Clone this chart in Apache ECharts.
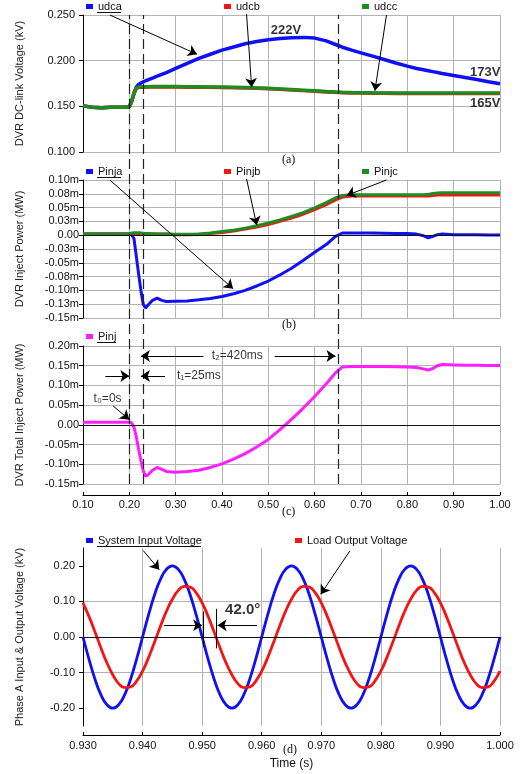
<!DOCTYPE html>
<html>
<head>
<meta charset="utf-8">
<script src="https://cdn.jsdelivr.net/npm/echarts@6/dist/echarts.min.js"></script>
<style>
html, body { margin: 0; padding: 0; background: #fff; }
#main { width: 532px; height: 774px; }
</style>
</head>
<body>
<div id="main"></div>
<script>
// time base for panels (a)-(c), seconds
var time = [
  0.10, 0.12, 0.14, 0.16, 0.18, 0.195, 0.20, 0.205, 0.21, 0.215,
  0.22, 0.225, 0.23, 0.235, 0.24, 0.25, 0.26, 0.27, 0.28, 0.30,
  0.325, 0.35, 0.375, 0.40, 0.425, 0.45, 0.475, 0.50, 0.525, 0.55,
  0.575, 0.60, 0.625, 0.645, 0.66, 0.68, 0.70, 0.725, 0.75, 0.775,
  0.80, 0.82, 0.835, 0.845, 0.855, 0.865, 0.875, 0.90, 0.925, 0.95,
  0.975, 1.00
];
// (a) DC-link voltage, kV
var udca = [
  0.1505, 0.149, 0.1485, 0.149, 0.149, 0.149, 0.1495, 0.155, 0.164, 0.171,
  0.174, 0.1755, 0.1768, 0.178, 0.179, 0.181, 0.183, 0.185, 0.187, 0.1915,
  0.197, 0.2025, 0.207, 0.2115, 0.215, 0.2185, 0.221, 0.223, 0.2243, 0.2252,
  0.2255, 0.2247, 0.2217, 0.2177, 0.2147, 0.2115, 0.2085, 0.205, 0.2013, 0.1975,
  0.194, 0.1915, 0.190, 0.189, 0.188, 0.187, 0.186, 0.1838, 0.1815, 0.1793,
  0.177, 0.1748
];
var udcb = [
  0.1505, 0.149, 0.1485, 0.149, 0.149, 0.149, 0.1495, 0.1555, 0.164, 0.1695,
  0.1708, 0.171, 0.171, 0.171, 0.1711, 0.1711, 0.1711, 0.1711, 0.1711, 0.1711,
  0.171, 0.1709, 0.1708, 0.1706, 0.1704, 0.1701, 0.1697, 0.1692, 0.1686, 0.1679,
  0.1672, 0.1665, 0.1658, 0.1653, 0.165, 0.1647, 0.1645, 0.1643, 0.1642, 0.1641,
  0.164, 0.164, 0.164, 0.164, 0.164, 0.164, 0.164, 0.164, 0.164, 0.164,
  0.164, 0.164
];
var udcc = [
  0.1505, 0.149, 0.1485, 0.149, 0.149, 0.149, 0.1495, 0.156, 0.1645, 0.170,
  0.1712, 0.1715, 0.1715, 0.1715, 0.1715, 0.1716, 0.1716, 0.1716, 0.1716, 0.1716,
  0.1715, 0.1714, 0.1713, 0.1711, 0.1709, 0.1706, 0.1702, 0.1697, 0.1691, 0.1684,
  0.1677, 0.167, 0.1663, 0.1658, 0.1655, 0.1652, 0.165, 0.1648, 0.1647, 0.1646,
  0.1645, 0.1645, 0.1645, 0.1645, 0.1645, 0.1645, 0.1645, 0.1645, 0.1645, 0.1645,
  0.1645, 0.1645
];
// (b) per-phase injected power, MW
var pinja = [
  0.002, 0.002, 0.002, 0.002, 0.002, 0.002, 0.002, 0.001, -0.006, -0.038,
  -0.07, -0.1, -0.125, -0.132, -0.127, -0.118, -0.114, -0.118, -0.12, -0.1195,
  -0.119, -0.117, -0.1145, -0.111, -0.106, -0.1, -0.092, -0.083, -0.072, -0.06,
  -0.046, -0.031, -0.017, -0.002, 0.004, 0.004, 0.004, 0.0038, 0.0035, 0.003,
  0.003, 0.002, -0.001, -0.005, -0.002, 0.001, 0.002, 0.001, 0.001, 0.001,
  0.0005, 0.0005
];
var pinjb = [
  0.002, 0.002, 0.002, 0.002, 0.002, 0.002, 0.002, 0.002, 0.002, 0.002,
  0.002, 0.002, 0.002, 0.002, 0.002, 0.002, 0.002, 0.002, 0.002, 0.001,
  0.001, 0.0015, 0.003, 0.005, 0.0075, 0.011, 0.015, 0.0195, 0.025, 0.031,
  0.038, 0.0465, 0.0555, 0.064, 0.069, 0.0708, 0.071, 0.071, 0.071, 0.071,
  0.071, 0.071, 0.071, 0.071, 0.0718, 0.0728, 0.073, 0.073, 0.073, 0.073,
  0.073, 0.073
];
var pinjc = [
  0.002, 0.002, 0.002, 0.002, 0.002, 0.002, 0.002, 0.004, 0.0045, 0.0045,
  0.0045, 0.004, 0.0035, 0.003, 0.003, 0.0025, 0.002, 0.002, 0.002, 0.0015,
  0.0015, 0.002, 0.004, 0.0065, 0.009, 0.0125, 0.017, 0.022, 0.0275, 0.034,
  0.041, 0.0495, 0.059, 0.0675, 0.072, 0.0735, 0.0735, 0.0735, 0.0735, 0.0735,
  0.0735, 0.0735, 0.0735, 0.074, 0.0755, 0.0765, 0.077, 0.077, 0.077, 0.077,
  0.077, 0.077
];
// (c) total injected power, MW
var pinj = [
  0.0065, 0.0065, 0.0065, 0.0065, 0.0065, 0.0065, 0.0065, 0.005, -0.006, -0.03,
  -0.062, -0.09, -0.117, -0.13, -0.127, -0.115, -0.108, -0.113, -0.118, -0.12,
  -0.1185, -0.115, -0.108, -0.099, -0.087, -0.073, -0.056, -0.037, -0.012, 0.014,
  0.042, 0.072, 0.104, 0.132, 0.147, 0.148, 0.148, 0.148, 0.148, 0.1475,
  0.147, 0.1455, 0.142, 0.139, 0.143, 0.15, 0.153, 0.152, 0.151, 0.151,
  0.1505, 0.1505
];
// (d) phase A voltages, kV
var timeD = [
  0.930, 0.931, 0.932, 0.933, 0.934, 0.935, 0.936, 0.937, 0.938, 0.939,
  0.940, 0.941, 0.942, 0.943, 0.944, 0.945, 0.946, 0.947, 0.948, 0.949,
  0.950, 0.951, 0.952, 0.953, 0.954, 0.955, 0.956, 0.957, 0.958, 0.959,
  0.960, 0.961, 0.962, 0.963, 0.964, 0.965, 0.966, 0.967, 0.968, 0.969,
  0.970, 0.971, 0.972, 0.973, 0.974, 0.975, 0.976, 0.977, 0.978, 0.979,
  0.980, 0.981, 0.982, 0.983, 0.984, 0.985, 0.986, 0.987, 0.988, 0.989,
  0.990, 0.991, 0.992, 0.993, 0.994, 0.995, 0.996, 0.997, 0.998, 0.999,
  1.000
];
var vin = [
  0, -0.062, -0.118, -0.162, -0.19, -0.2, -0.19, -0.162, -0.118, -0.062,
  0, 0.062, 0.118, 0.162, 0.19, 0.2, 0.19, 0.162, 0.118, 0.062,
  0, -0.062, -0.118, -0.162, -0.19, -0.2, -0.19, -0.162, -0.118, -0.062,
  0, 0.062, 0.118, 0.162, 0.19, 0.2, 0.19, 0.162, 0.118, 0.062,
  0, -0.062, -0.118, -0.162, -0.19, -0.2, -0.19, -0.162, -0.118, -0.062,
  0, 0.062, 0.118, 0.162, 0.19, 0.2, 0.19, 0.162, 0.118, 0.062,
  0, -0.062, -0.118, -0.162, -0.19, -0.2, -0.19, -0.162, -0.118, -0.062,
  0
];
var vout = [
  0.096, 0.058, 0.015, -0.03, -0.072, -0.106, -0.131, -0.142, -0.14, -0.124,
  -0.096, -0.058, -0.015, 0.03, 0.072, 0.106, 0.131, 0.142, 0.14, 0.124,
  0.096, 0.058, 0.015, -0.03, -0.072, -0.106, -0.131, -0.142, -0.14, -0.124,
  -0.096, -0.058, -0.015, 0.03, 0.072, 0.106, 0.131, 0.142, 0.14, 0.124,
  0.096, 0.058, 0.015, -0.03, -0.072, -0.106, -0.131, -0.142, -0.14, -0.124,
  -0.096, -0.058, -0.015, 0.03, 0.072, 0.106, 0.131, 0.142, 0.14, 0.124,
  0.096, 0.058, 0.015, -0.03, -0.072, -0.106, -0.131, -0.142, -0.14, -0.124,
  -0.096
];
// event times (s): sag start, t1, t2
var events = [0.20, 0.225, 0.645];
// tick labels
var ticksB = ['-0.15m', '-0.13m', '-0.10m', '-0.08m', '-0.05m', '-0.03m', '0.00', '0.03m', '0.05m', '0.08m', '0.10m'];
var ticksC = ['-0.15m', '-0.10m', '-0.05m', '0.00', '0.05m', '0.10m', '0.15m', '0.20m'];
var ticksD = [-0.2, -0.1, 0, 0.1, 0.2];

// annotations: arrows [[x1,y1],[x2,y2]] and text [x, y, label] in data units
var arrowsA = [[[0.158, 0.25], [0.346, 0.207]], [[0.453, 0.251], [0.464, 0.171]], [[0.755, 0.25], [0.730, 0.167]]];
var arrowsB = [[[0.158, 0.10], [0.424, -0.097]], [[0.453, 0.102], [0.475, 0.018]], [[0.755, 0.10], [0.669, 0.072]]];
var arrowsC = [[[0.360, 0.1746], [0.225, 0.1746]], [[0.514, 0.1746], [0.645, 0.1746]],
               [[0.148, 0.124], [0.200, 0.124]], [[0.277, 0.124], [0.225, 0.124]],
               [[0.165, 0.048], [0.200, 0.013]]];
var arrowsD = [[[0.9401, 0.243], [0.9428, 0.189]], [[0.9748, 0.242], [0.9699, 0.12]],
               [[0.9436, 0.033], [0.9500, 0.033]], [[0.9592, 0.033], [0.9526, 0.033]]];
var ticksLinesD = [[[0.9502, 0.072], [0.9502, -0.028]], [[0.9524, 0.079], [0.9524, -0.032]]];
var textA = [[0.538, 0.2336, '222V'], [0.968, 0.187, '173V'], [0.968, 0.1533, '165V']];
var textC = [[0.433, 0.1746, 't\u2082=420ms'], [0.350, 0.124, 't\u2081=25ms'], [0.153, 0.0673, 't\u2080=0s']];
var textD = [[0.9568, 0.077, '42.0\u00b0']];

var FONT = 'Liberation Sans';
var BLUE = '#1010f5', RED = '#f51414', GREEN = '#1e8c1e', MAGENTA = '#ff1eff';
var GRIDC = '#b4b4b4';

function pairs(xs, ys) {
  return xs.map(function (x, i) { return [x, ys[i]]; });
}

var myChart = echarts.init(document.getElementById('main'));

function xAxisFor(gi, opts) {
  var base = {
    type: 'value', gridIndex: gi, min: 0.1, max: 1.0, interval: 0.1,
    axisLine: { show: false, onZero: false },
    axisTick: { show: false },
    axisLabel: { show: false },
    splitLine: { show: true, lineStyle: { color: GRIDC, width: 1 } }
  };
  return Object.assign(base, opts || {});
}

function yAxisFor(gi, opts) {
  var base = {
    type: 'value', gridIndex: gi,
    nameLocation: 'middle', nameGap: 58,
    nameTextStyle: { fontFamily: FONT, fontSize: 11, color: '#222' },
    axisLine: { show: true, onZero: false, lineStyle: { color: '#000', width: 1 } },
    axisTick: { show: true, length: 4, lineStyle: { color: '#000' } },
    axisLabel: { fontFamily: FONT, fontSize: 11, color: '#111', margin: 8 },
    splitLine: { show: true, lineStyle: { color: GRIDC, width: 1 } }
  };
  return Object.assign(base, opts || {});
}

function lineSeries(name, xi, data, color, width, extra) {
  return Object.assign({
    name: name, type: 'line', xAxisIndex: xi, yAxisIndex: xi,
    data: data, showSymbol: false, symbol: 'none',
    lineStyle: { color: color, width: width }, itemStyle: { color: color },
    animation: false, z: 3
  }, extra || {});
}

function zeroLine(xi) {
  return {
    type: 'line', xAxisIndex: xi, yAxisIndex: xi, data: [], silent: true, z: 2,
    markLine: {
      silent: true, symbol: 'none', animation: false, label: { show: false },
      lineStyle: { color: '#111', width: 1, type: 'solid' },
      data: [{ yAxis: 0 }]
    }
  };
}

function arrowSeries(xi, list, withHead) {
  return {
    type: 'lines', coordinateSystem: 'cartesian2d', xAxisIndex: xi, yAxisIndex: xi,
    clip: false, silent: true, z: 6, animation: false,
    symbol: withHead ? ['none', 'arrow'] : ['none', 'none'],
    symbolSize: 9,
    lineStyle: { color: '#000', width: 1, opacity: 1, curveness: 0 },
    data: list.map(function (c) { return { coords: c }; })
  };
}

function textSeries(xi, list, style) {
  return {
    type: 'scatter', xAxisIndex: xi, yAxisIndex: xi, clip: false, silent: true,
    symbolSize: 0, z: 7, animation: false,
    itemStyle: { color: 'rgba(0,0,0,0)' },
    label: Object.assign({ show: true, position: 'inside', color: '#000', fontFamily: FONT,
      formatter: function (p) { return p.data[2]; } }, style),
    data: list
  };
}

function legendAt(name, left, top) {
  return {
    data: [name], left: left, top: top, padding: 0, icon: 'rect',
    itemWidth: 7, itemHeight: 5,
    textStyle: { fontFamily: FONT, fontSize: 11, color: '#111' },
    selectedMode: false
  };
}

function panelLabel(txt, x, y) {
  return { type: 'text', left: x, top: y,
    style: { text: txt, fontFamily: 'Liberation Serif', fontSize: 12, fill: '#111' } };
}
function underline(x1, x2, y) {
  return { type: 'line', shape: { x1: x1, y1: y, x2: x2, y2: y },
    style: { stroke: '#111', lineWidth: 1 } };
}

var option = {
  backgroundColor: '#fff',
  animation: false,
  grid: [
    { left: 83, top: 15, width: 417, height: 137 },
    { left: 83, top: 180, width: 417, height: 138 },
    { left: 83, top: 346, width: 417, height: 138 },
    { left: 83, top: 548, width: 417, height: 178 },
    { left: 83, top: 15, width: 417, height: 469 }
  ],
  legend: [
    legendAt('udca', 86, 1), legendAt('udcb', 224, 1), legendAt('udcc', 362, 1),
    legendAt('Pinja', 86, 166), legendAt('Pinjb', 224, 166), legendAt('Pinjc', 362, 166),
    legendAt('Pinj', 86, 331),
    legendAt('System Input Voltage', 86, 535), legendAt('Load Output Voltage', 295, 535)
  ],
  xAxis: [
    xAxisFor(0),
    xAxisFor(1),
    xAxisFor(2, {
      offset: 11,
      axisLine: { show: true, onZero: false, lineStyle: { color: '#000' } },
      axisTick: { show: true, inside: true, length: 3, lineStyle: { color: '#000' } },
      axisLabel: { show: true, margin: 4, fontFamily: FONT, fontSize: 11, color: '#111',
        formatter: function (v) { return v.toFixed(2); } }
    }),
    xAxisFor(3, {
      min: 0.93, max: 1.0, interval: 0.01, offset: 9,
      name: 'Time (s)', nameLocation: 'middle', nameGap: 23,
      nameTextStyle: { fontFamily: FONT, fontSize: 12, color: '#111' },
      axisLine: { show: true, onZero: false, lineStyle: { color: '#000' } },
      axisTick: { show: true, inside: true, length: 3, lineStyle: { color: '#000' } },
      axisLabel: { show: true, margin: 5, fontFamily: FONT, fontSize: 11, color: '#111',
        formatter: function (v) { return v.toFixed(3); } }
    }),
    { type: 'value', gridIndex: 4, min: 0.1, max: 1.0, show: false }
  ],
  yAxis: [
    yAxisFor(0, { min: 0.1, max: 0.25, interval: 0.05, name: 'DVR DC-link Voltage (kV)',
      axisLabel: { fontFamily: FONT, fontSize: 11, color: '#111', margin: 8,
        formatter: function (v) { return v.toFixed(3); } } }),
    yAxisFor(1, { min: -0.15, max: 0.10, interval: 0.025, name: 'DVR Inject Power (MW)',
      axisLabel: { fontFamily: FONT, fontSize: 11, color: '#111', margin: 4,
        formatter: function (v) { return ticksB[Math.round((v + 0.15) / 0.025)]; } } }),
    yAxisFor(2, { min: -0.15, max: 0.20, interval: 0.05, name: 'DVR Total Inject Power (MW)',
      axisLabel: { fontFamily: FONT, fontSize: 11, color: '#111', margin: 4,
        formatter: function (v) { return ticksC[Math.round((v + 0.15) / 0.05)]; } } }),
    yAxisFor(3, { min: -0.25, max: 0.25, interval: 0.05, name: 'Phase A Input & Output Voltage (kV)',
      axisTick: { show: true, length: 4, customValues: ticksD, lineStyle: { color: '#000' } },
      axisLabel: { fontFamily: FONT, fontSize: 11, color: '#111', margin: 8, customValues: ticksD,
        formatter: function (v) { return v.toFixed(2); } },
      splitLine: { show: true, lineStyle: { color: ['rgba(0,0,0,0)', GRIDC], width: 1 } } }),
    { type: 'value', gridIndex: 4, min: 0, max: 1, show: false }
  ],
  graphic: [
    panelLabel('(a)', 282, 154), panelLabel('(b)', 282, 319), panelLabel('(c)', 282, 506),
    panelLabel('(d)', 283, 744),
    underline(97, 121, 12.5), underline(97, 121, 177.5), underline(97, 116, 342.5),
    underline(97, 201, 546.5)
  ],
  series: [
    zeroLine(1), zeroLine(2), zeroLine(3),
    lineSeries('udca', 0, pairs(time, udca), BLUE, 3.5),
    lineSeries('udcb', 0, pairs(time, udcb), RED, 3.5),
    lineSeries('udcc', 0, pairs(time, udcc), GREEN, 3.5),
    lineSeries('Pinja', 1, pairs(time, pinja), BLUE, 3),
    lineSeries('Pinjb', 1, pairs(time, pinjb), RED, 3),
    lineSeries('Pinjc', 1, pairs(time, pinjc), GREEN, 3),
    lineSeries('Pinj', 2, pairs(time, pinj), MAGENTA, 3),
    lineSeries('System Input Voltage', 3, pairs(timeD, vin), BLUE, 2.8, { smooth: true }),
    lineSeries('Load Output Voltage', 3, pairs(timeD, vout), RED, 2.8, { smooth: true }),
    {
      type: 'line', xAxisIndex: 4, yAxisIndex: 4, data: [], silent: true, z: 5,
      markLine: {
        silent: true, symbol: 'none', animation: false, label: { show: false },
        lineStyle: { color: '#222', width: 1.2, type: [10, 5] },
        data: events.map(function (t) { return { xAxis: t }; })
      }
    },
    arrowSeries(0, arrowsA, true),
    arrowSeries(1, arrowsB, true),
    arrowSeries(2, arrowsC, true),
    arrowSeries(3, arrowsD, true),
    arrowSeries(3, ticksLinesD, false),
    textSeries(0, textA, { fontSize: 13, fontWeight: 'bold' }),
    textSeries(2, textC, { fontSize: 12 }),
    textSeries(3, textD, { fontSize: 15, fontWeight: 'bold' })
  ]
};
myChart.setOption(option);
window.onresize = function () { myChart.resize(); };
</script>
</body>
</html>
